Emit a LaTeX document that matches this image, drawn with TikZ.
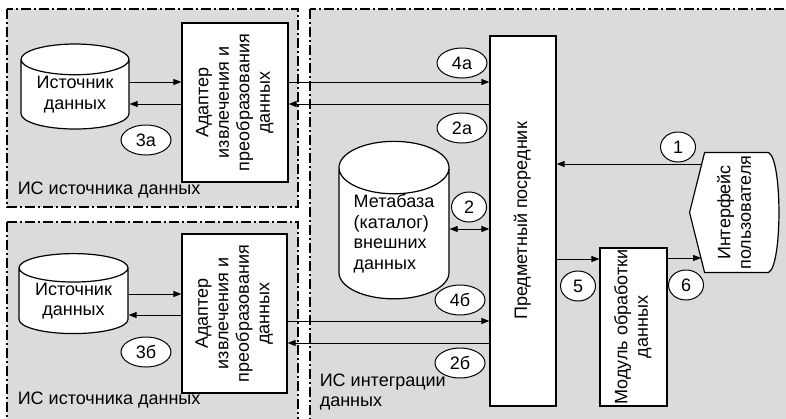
\documentclass[tikz,border=0pt]{standalone}
\usepackage{fontspec}
\setmainfont{Liberation Sans}
\usetikzlibrary{shapes.geometric,arrows.meta}

\definecolor{panel}{gray}{0.86}
% vertical text, several centred lines
\newcommand{\uptext}[1]{\rotatebox{90}{\begin{tabular}{@{}c@{}}#1\end{tabular}}}

\begin{document}
\begin{tikzpicture}[x=1pt,y=-1pt,font=\fontsize{18}{20.5}\selectfont,line width=0.9pt]
  \tikzset{
    zone/.style={draw,fill=panel,line width=1.1pt,dash pattern=on 10pt off 3pt on 2pt off 3pt},
    box/.style={draw,fill=white,line width=1.2pt,inner sep=0pt},
    store/.style={box,cylinder,shape border rotate=90,shape aspect=#1},
    tag/.style={draw,fill=white,ellipse,line width=1pt,inner sep=0pt,minimum width=35pt,minimum height=30pt},
    wtag/.style={tag,minimum width=50pt},
    link/.style={-{Triangle[length=8pt,width=6pt]}},
    dlink/.style={{Triangle[length=8pt,width=6pt]}-{Triangle[length=8pt,width=6pt]}}
  }
  \useasboundingbox (0,0) rectangle (786,418);
  \clip (0,0) rectangle (786,418);

  % system areas
  \draw[zone] (7,9) rectangle (298,207);
  \draw[zone] (7,222) rectangle (298,440);
  \draw[zone] (310,9) rectangle (800,440);

  % upper source system
  \node[store=0.4,minimum width=108pt,minimum height=85pt,align=center] (src1) at (75,94.5) {Источник\\данных};
  \node[box,minimum width=106pt,minimum height=159pt] (ad1) at (235,102.5) {\uptext{Адаптер\\извлечения и\\преобразования\\данных}};
  \node[wtag] (t3a) at (146,140) {3а};
  \node[anchor=west] (sys1) at (14,190) {ИС источника данных};

  % lower source system
  \node[store=0.37,minimum width=109pt,minimum height=80pt,align=center] (src2) at (73.5,301) {Источник\\данных};
  \node[box,minimum width=105pt,minimum height=159pt] (ad2) at (234.5,313.5) {\uptext{Адаптер\\извлечения и\\преобразования\\данных}};
  \node[wtag] (t3b) at (146,352) {3б};
  \node[anchor=west] (sys2) at (14,400) {ИС источника данных};

  % integration system
  \node[box,minimum width=66pt,minimum height=370pt] (med) at (523,221) {\uptext{Предметный посредник}};
  \node[store=0.65,minimum width=110pt,minimum height=149pt,align=left] (meta) at (394,233.5) {Метабаза\\(каталог)\\внешних\\данных};
  \node[box,minimum width=67pt,minimum height=158pt] (mod) at (633.5,327) {\uptext{Модуль обработки\\данных}};
  \node[minimum width=63pt,minimum height=119pt,inner sep=0pt] (ui) at (736.5,212.5) {};
  \draw[box] (ui.north west) -- (ui.north east)
    .. controls +(14,6) and +(14,-6) .. (ui.south east)
    -- (ui.south west) -- ([xshift=-15pt]ui.west) -- cycle;
  \node (uitext) at (ui.center) {\uptext{Интерфейс\\пользователя}};
  \node[anchor=west,align=left] (sys3) at (316,392) {ИС интеграции\\данных};

  % data flows
  \draw[link] ([yshift=20.5pt]ad1.west -| src1.east) -- ([yshift=20.5pt]ad1.west);
  \draw[link] ([yshift=-1.5pt]ad1.west) -- ([yshift=-1.5pt]ad1.west -| src1.east);
  \draw[link] ([yshift=20.5pt]ad1.east) -- ([yshift=20.5pt]ad1.east -| med.west);
  \draw[link] ([yshift=-1.5pt]ad1.east -| med.west) -- ([yshift=-1.5pt]ad1.east);
  \draw[link] ([yshift=19.5pt]ad2.west -| src2.east) -- ([yshift=19.5pt]ad2.west);
  \draw[link] ([yshift=-1.5pt]ad2.west) -- ([yshift=-1.5pt]ad2.west -| src2.east);
  \draw[link] ([yshift=-7.5pt]ad2.east) -- ([yshift=-7.5pt]ad2.east -| med.west);
  \draw[link] ([yshift=-29.5pt]ad2.east -| med.west) -- ([yshift=-29.5pt]ad2.east);
  \draw[dlink] ([yshift=-8pt]med.west -| meta.east) -- ([yshift=-8pt]med.west);
  \draw[link] ([xshift=-3pt,yshift=48.5pt]ui.west) -- ([yshift=48.5pt]ui.west -| med.east);
  \draw[link] ([yshift=68pt]mod.west -| med.east) -- ([yshift=68pt]mod.west);
  \draw[link] ([yshift=69pt]mod.east) -- ([xshift=-3.5pt,yshift=69pt]mod.east -| ui.west);

  % step numbers
  \node[tag] (t1) at (678,147) {1};
  \node[tag] (t2) at (469,207) {2};
  \node[wtag] (t2a) at (462,128) {2а};
  \node[wtag] (t2b) at (460,363) {2б};
  \node[wtag] (t4a) at (462,63) {4а};
  \node[wtag] (t4b) at (460,300) {4б};
  \node[tag] (t5) at (578,286) {5};
  \node[tag] (t6) at (686,285) {6};
\end{tikzpicture}
\end{document}
